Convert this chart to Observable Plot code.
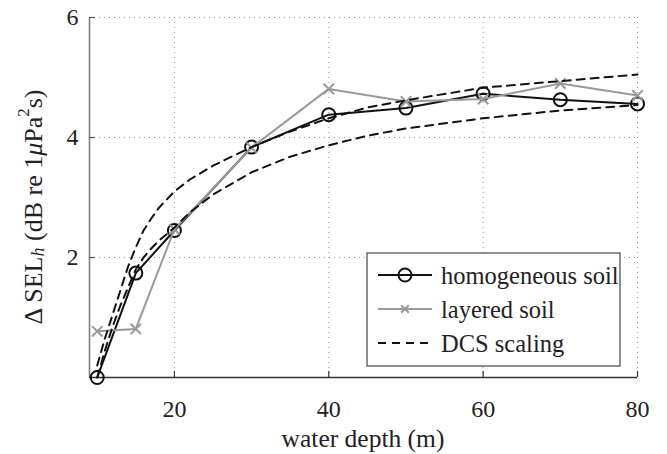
<!DOCTYPE html>
<html><head><meta charset="utf-8">
<script src="https://cdn.jsdelivr.net/npm/d3@7"></script>
<script src="https://cdn.jsdelivr.net/npm/@observablehq/plot@0.6"></script>
<style>body{margin:0;background:#fff}</style>
</head><body><div id="chart"></div>
<script>
// ---- data ----
const depths = [10, 15, 20, 30, 40, 50, 60, 70, 80];
const homogeneous = [0, 1.74, 2.45, 3.84, 4.38, 4.49, 4.73, 4.63, 4.56];
const layered = [0.77, 0.81, 2.47, 3.83, 4.81, 4.60, 4.64, 4.90, 4.70];
const dcsDepths = [10, 11, 12, 13, 14, 15, 16, 17, 18, 20, 22, 25, 30, 35, 40, 45, 50, 60, 70, 80];
const dcsUpper = [0.2, 0.65, 1.05, 1.45, 1.85, 2.17, 2.45, 2.65, 2.83, 3.1, 3.3, 3.53, 3.84, 4.1, 4.32, 4.5, 4.62, 4.83, 4.94, 5.05];
const dcsLower = [0, 0.45, 0.85, 1.2, 1.5, 1.8, 2.0, 2.15, 2.28, 2.5, 2.75, 3.05, 3.42, 3.68, 3.87, 4.03, 4.15, 4.32, 4.45, 4.54];
const xTicks = [20, 40, 60, 80];
const yTicks = [2, 4, 6];
const xDomain = [9, 80];
const yDomain = [0, 6];
const seriesNames = ["homogeneous soil", "layered soil", "DCS scaling"];

const homData = depths.map((d, i) => ({x: d, y: homogeneous[i]}));
const layData = depths.map((d, i) => ({x: d, y: layered[i]}));
const upData = dcsDepths.map((d, i) => ({x: d, y: dcsUpper[i]}));
const loData = dcsDepths.map((d, i) => ({x: d, y: dcsLower[i]}));

const FONT = "'Liberation Serif', 'Times New Roman', serif";
const FS = "24px";
const dash = "8,6";

const plot = Plot.plot({
  width: 667, height: 454,
  marginTop: 17, marginBottom: 77, marginLeft: 89, marginRight: 30,
  x: {domain: xDomain},
  y: {domain: yDomain},
  style: {fontFamily: FONT, fontSize: FS, color: "#222", background: "white"},
  marks: [
    Plot.gridX(xTicks, {stroke: "#9a9a9a", strokeOpacity: 1, strokeWidth: 1, strokeDasharray: "1,4"}),
    Plot.gridY(yTicks, {stroke: "#9a9a9a", strokeOpacity: 1, strokeWidth: 1, strokeDasharray: "1,4"}),
    Plot.ruleX([xDomain[0]], {stroke: "#808080", strokeWidth: 1.6}),
    Plot.ruleY([yDomain[0]], {stroke: "#333", strokeWidth: 1.5}),
    Plot.axisX(xTicks, {tickSize: -6, tickPadding: 28, label: null, stroke: "#333", strokeWidth: 1.2, tickFormat: d => String(d)}),
    Plot.axisY(yTicks, {tickSize: -6, tickPadding: 17, label: null, stroke: "#555", strokeWidth: 1.2, tickFormat: d => String(d)}),
    Plot.line(homData, {x: "x", y: "y", stroke: "#111", strokeWidth: 2}),
    Plot.dot(homData, {x: "x", y: "y", r: 6.5, stroke: "#111", strokeWidth: 2, fill: "none"}),
    Plot.line(layData, {x: "x", y: "y", stroke: "#999", strokeWidth: 2}),
    Plot.dot(layData, {x: "x", y: "y", symbol: "times", r: 4.8, stroke: "#999", strokeWidth: 2}),
    Plot.line(upData, {x: "x", y: "y", stroke: "#111", strokeWidth: 2, strokeDasharray: dash}),
    Plot.line(loData, {x: "x", y: "y", stroke: "#111", strokeWidth: 2, strokeDasharray: dash})
  ]
});
document.getElementById("chart").append(plot);

const svg = d3.select(plot);
const xs = plot.scale("x"), ys = plot.scale("y");
const xr = xs.range, yr = ys.range;
const cx = (xr[0] + xr[1]) / 2, cy = (yr[0] + yr[1]) / 2;

// x axis title
svg.append("text").attr("x", cx).attr("y", 438)
  .attr("text-anchor", "middle").attr("dominant-baseline", "central")
  .style("font-size", "25.5px")
  .text("water depth (m)");

// y axis title with sub/superscripts
const yl = svg.append("text").attr("transform", `translate(33,${cy + 10}) rotate(-90)`)
  .attr("text-anchor", "middle").attr("dominant-baseline", "central")
  .style("font-size", "26px");
yl.append("tspan").text("Δ SEL");
yl.append("tspan").attr("font-style", "italic").style("font-size", "18px").attr("dy", 5).text("h");
yl.append("tspan").attr("dy", -5).text(" (dB re 1");
yl.append("tspan").attr("font-style", "italic").text("μ");
yl.append("tspan").text("Pa");
yl.append("tspan").style("font-size", "17px").attr("dy", -10).text("2");
yl.append("tspan").attr("dy", 10).text("s)");

// legend
const lg = svg.append("g");
const bx0 = 367, bx1 = 620, by0 = 253, by1 = 366;
lg.append("rect").attr("x", bx0).attr("y", by0).attr("width", bx1 - bx0).attr("height", by1 - by0)
  .attr("fill", "white").attr("stroke", "#444").attr("stroke-width", 1.2);
const rows = [275, 309, 343];
const sx0 = bx0 + 11, sx1 = bx0 + 65, smid = (sx0 + sx1) / 2;
const styles = [
  {stroke: "#111", dash: null},
  {stroke: "#999", dash: null},
  {stroke: "#111", dash: dash}
];
seriesNames.forEach((name, i) => {
  const y = rows[i];
  const ln = lg.append("line").attr("x1", sx0).attr("x2", sx1).attr("y1", y).attr("y2", y)
    .attr("stroke", styles[i].stroke).attr("stroke-width", 2);
  if (styles[i].dash) ln.attr("stroke-dasharray", styles[i].dash);
  if (i === 0) lg.append("circle").attr("cx", smid).attr("cy", y).attr("r", 6.5)
    .attr("fill", "none").attr("stroke", "#111").attr("stroke-width", 2);
  if (i === 1) lg.append("path").attr("d", d3.symbol(d3.symbolTimes, 40)())
    .attr("transform", `translate(${smid},${y})`).attr("stroke", "#999").attr("stroke-width", 2).attr("fill", "none");
  lg.append("text").attr("x", bx0 + 74).attr("y", y).attr("text-anchor", "start")
    .attr("dominant-baseline", "central").style("font-size", "24.5px").text(name);
});

// force serif font and size on every text
svg.selectAll("text").each(function() {
  this.style.setProperty("font-family", FONT, "important");
  if (!this.style.fontSize) this.style.setProperty("font-size", FS);
  this.style.setProperty("fill", "#222");
});
svg.selectAll("tspan").each(function() {
  this.style.setProperty("font-family", FONT, "important");
});
</script>
</body></html>
